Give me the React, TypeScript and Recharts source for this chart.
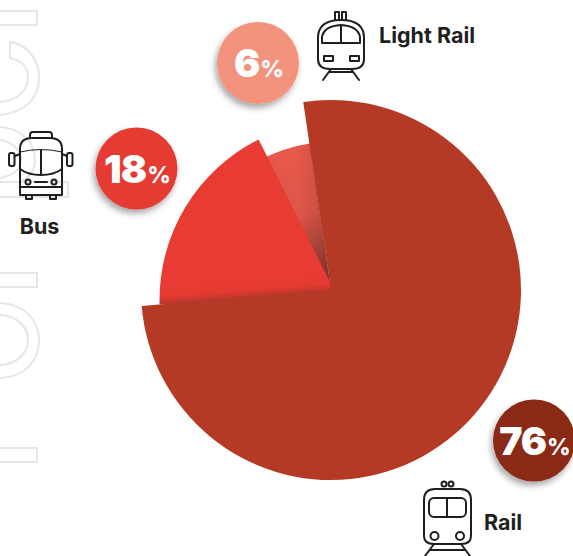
import { PieChart, Pie, Cell } from 'recharts';

const categories = ['Rail', 'Bus', 'Light Rail'];
const shares = [76, 18, 6];
const shareUnit = '%';

const WIDTH = 573;
const HEIGHT = 556;
const FONT = 'Inter, "Open Sans", sans-serif';
const INK = '#1f1f1f';
const GHOST = '#e6e6e6';

// each slice is its own pie, the original is an exploded layout with stacked sectors
const sliceLook = [
  { cx: 331, cy: 290, r: 190, start: 98.4, fill: '#b53a26', badge: '#8a2a15', badgeX: 534, badgeY: 440.5 },
  { cx: 339, cy: 300, r: 179.5, start: 181.4, fill: 'url(#busFade)', badge: '#e63a32', badgeX: 136.5, badgeY: 168.5 },
  { cx: 331, cy: 290, r: 148, start: 119.8, fill: 'url(#lightFade)', badge: '#f4937d', badgeX: 258, badgeY: 63 },
];

function sliceData(i: number) {
  return [{ name: categories[i], value: shares[i] }];
}

function slicePie(i: number, fill: string, key: string) {
  const look = sliceLook[i];
  return (
    <Pie
      key={key}
      data={sliceData(i)}
      dataKey="value"
      nameKey="name"
      cx={look.cx}
      cy={look.cy}
      innerRadius={0}
      outerRadius={look.r}
      startAngle={look.start}
      endAngle={look.start - shares[i] * 3.6}
      stroke="none"
      labelLine={false}
      isAnimationActive={false}
    >
      <Cell fill={fill} />
    </Pie>
  );
}

function Badge({ i }: { i: number }) {
  const look = sliceLook[i];
  return (
    <g>
      <circle cx={look.badgeX} cy={look.badgeY} r={41} fill={look.badge} filter="url(#badgeShadow)" />
      <text
        x={look.badgeX + 1}
        y={look.badgeY + 14}
        textAnchor="middle"
        fill="#fff"
        fontFamily={FONT}
        fontWeight={900}
        fontSize={39}
        letterSpacing={-1}
      >
        {shares[i]}
        <tspan fontSize={23} fontWeight={800} letterSpacing={0} dx={1}>
          {shareUnit}
        </tspan>
      </text>
    </g>
  );
}

function Ghosts() {
  return (
    <g fill="none" stroke={GHOST} strokeWidth={2}>
      <rect x={-4} y={11} width={41} height={14} />
      <path d="M0 115 C26 112 39 98 39 78 C39 58 26 44 10 42 L10 58 C20 60 28 66 28 77 C28 92 16 101 0 102" />
      <path d="M0 127 C20 128 35 142 35 160 C35 172 27 180 18 182 M0 140 C12 142 21 150 21 160 C21 170 12 176 0 178" />
      <rect x={-4} y={182} width={72} height={15} />
      <rect x={-4} y={273} width={41} height={14} />
      <path d="M0 303 C24 304 39 320 39 340 C39 362 24 377 0 378 M0 315 C16 316 28 326 28 340 C28 354 16 364 0 365" />
      <rect x={-4} y={448} width={41} height={14} />
    </g>
  );
}

function BusIcon() {
  return (
    <g fill="none" stroke={INK} strokeWidth={2} strokeLinejoin="round" strokeLinecap="round">
      <path d="M30 138 L30 135 Q30 132 33 132 L49 132 Q52 132 52 135 L52 138" />
      <path d="M20 195 L20 149 Q20 138 32 138 L50 138 Q62 138 62 149 L62 195 Z" />
      <path d="M20 169 Q28 175 41 175 Q54 175 62 169 M41 150 L41 175 M20 187 L62 187" />
      <path d="M20 152 Q41 147 62 152" strokeWidth={1} />
      <path d="M26 195 L26 199 L32 199 L32 195 M50 195 L50 199 L56 199 L56 195" />
      <circle cx={28} cy={182} r={2.5} />
      <circle cx={54} cy={182} r={2.5} />
      <path d="M35 182 L47 182" />
      <rect x={9} y={153} width={5.5} height={13} rx={2} />
      <rect x={67} y={153} width={5.5} height={13} rx={2} />
      <path d="M15 156 L20 154 M67 156 L62 154" />
    </g>
  );
}

function LightRailIcon() {
  return (
    <g fill="none" stroke={INK} strokeWidth={2} strokeLinejoin="round" strokeLinecap="round">
      <path d="M335 20 L335 12 L339 12 L339 20 M342 20 L342 12 L346 12 L346 20" />
      <path d="M318 38 Q318 20 341 20 Q364 20 364 38 L364 59 Q364 69 352 69 L330 69 Q318 69 318 59 Z" />
      <path d="M322 43 L322 37 Q324 26 341 25 Q358 26 360 37 L360 43 Z M341 25 L341 43" />
      <rect x={324} y={56} width={9} height={5} />
      <rect x={350} y={56} width={9} height={5} />
      <path d="M331 69 L323 80 M351 69 L359 80 M329 72 L353 72" />
    </g>
  );
}

function RailIcon() {
  return (
    <g fill="none" stroke={INK} strokeWidth={2} strokeLinejoin="round" strokeLinecap="round">
      <circle cx={444} cy={484} r={2.5} />
      <circle cx={451} cy={484} r={2.5} />
      <path d="M424 500 Q424 489 435 489 L460 489 Q471 489 471 500 L471 536 Q471 544 461 544 L434 544 Q424 544 424 536 Z" />
      <rect x={429} y={498} width={37} height={19} rx={5} />
      <path d="M447 498 L447 517" />
      <circle cx={434.5} cy={536} r={4} />
      <circle cx={460} cy={536} r={4} />
      <path d="M434 544 L425 556 M461 544 L470 556 M430 550 L465 550" />
    </g>
  );
}

export default function App() {
  return (
    <div style={{ position: 'absolute', left: 0, top: 0, width: WIDTH, height: HEIGHT, overflow: 'hidden', background: '#fff' }}>
      <svg width={WIDTH} height={HEIGHT} style={{ position: 'absolute', left: 0, top: 0 }}>
        <Ghosts />
      </svg>
      <div style={{ position: 'absolute', left: 0, top: 0 }}>
        <PieChart width={WIDTH} height={HEIGHT} margin={{ top: 0, right: 0, bottom: 0, left: 0 }}>
          <defs>
            <linearGradient id="busFade" gradientUnits="userSpaceOnUse" x1={248.8} y1={283} x2={250} y2={298}>
              <stop offset="0%" stopColor="#e73b33" />
              <stop offset="50%" stopColor="#e23a31" />
              <stop offset="100%" stopColor="#b5362b" />
            </linearGradient>
            <linearGradient id="lightFade" gradientUnits="userSpaceOnUse" x1={258} y1={175} x2={322} y2={166}>
              <stop offset="0%" stopColor="#cf493f" />
              <stop offset="18%" stopColor="#e4564a" />
              <stop offset="55%" stopColor="#eb5b4c" />
              <stop offset="82%" stopColor="#de5548" />
              <stop offset="100%" stopColor="#a9463b" />
            </linearGradient>
            <radialGradient id="lightApex" gradientUnits="userSpaceOnUse" cx={331} cy={290} r={148}>
              <stop offset="0%" stopColor="#5e2a22" stopOpacity={0.9} />
              <stop offset="55%" stopColor="#5e2a22" stopOpacity={0.1} />
              <stop offset="100%" stopColor="#5e2a22" stopOpacity={0} />
            </radialGradient>
          </defs>
          {slicePie(2, sliceLook[2].fill, 'light')}
          {slicePie(2, 'url(#lightApex)', 'lightApex')}
          {slicePie(1, sliceLook[1].fill, 'bus')}
          {slicePie(0, sliceLook[0].fill, 'rail')}
        </PieChart>
      </div>
      <svg width={WIDTH} height={HEIGHT} style={{ position: 'absolute', left: 0, top: 0, pointerEvents: 'none' }}>
        <defs>
          <filter id="badgeShadow" x="-30%" y="-30%" width="160%" height="160%">
            <feDropShadow dx={-2} dy={4} stdDeviation={3} floodColor="#000" floodOpacity={0.35} />
          </filter>
        </defs>
        <BusIcon />
        <LightRailIcon />
        <RailIcon />
        {categories.map((_, i) => (
          <Badge key={i} i={i} />
        ))}
        <g fill={INK} fontFamily={FONT} fontWeight={700} fontSize={21.5}>
          <text x={39.5} y={234} textAnchor="middle">{categories[1]}</text>
          <text x={379} y={43}>{categories[2]}</text>
          <text x={484} y={530}>{categories[0]}</text>
        </g>
      </svg>
    </div>
  );
}
